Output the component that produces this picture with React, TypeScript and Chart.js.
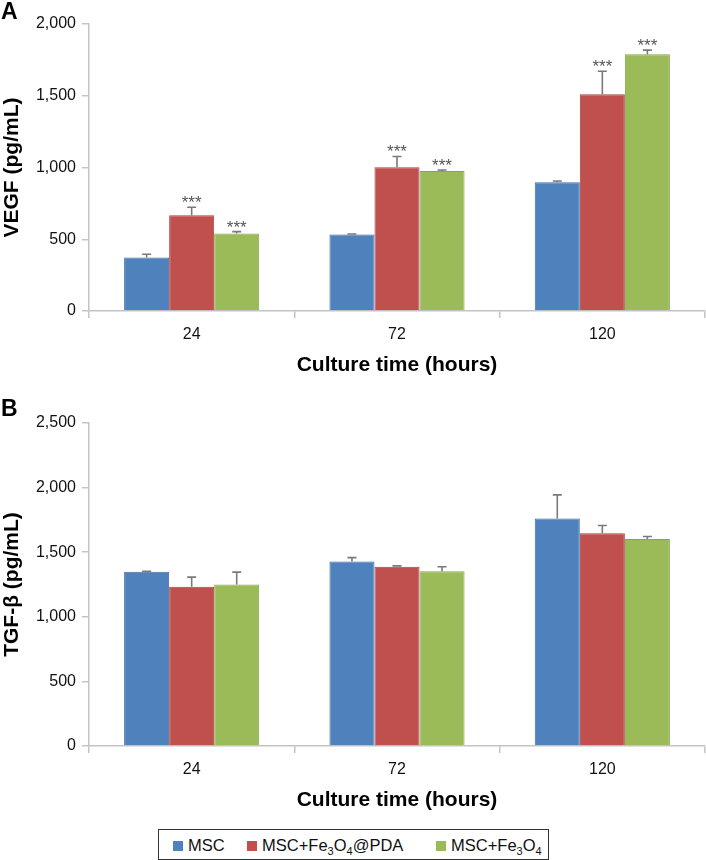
import React, { useEffect, useRef } from "react";
import { Chart, registerables } from "chart.js";

Chart.register(...registerables);

// ---------- data ----------
const categories = ["24", "72", "120"];
const seriesNames = ["MSC", "MSC+Fe3O4@PDA", "MSC+Fe3O4"];
const fillColors = ["#4F81BD", "#C0504D", "#9BBB59"];
const edgeColors = ["#3F6EA6", "#A8423F", "#86A64A"];

const vegfMSC = [372, 533, 897];
const vegfPDA = [668, 1002, 1511];
const vegfFe = [540, 976, 1790];
const vegfErrMSC = [23, 4, 9];
const vegfErrPDA = [55, 75, 160];
const vegfErrFe = [13, 7, 28];
const vegfStarsMSC = [false, false, false];
const vegfStarsPDA = [true, true, true];
const vegfStarsFe = [true, true, true];

const tgfMSC = [1348, 1428, 1761];
const tgfPDA = [1232, 1387, 1647];
const tgfFe = [1250, 1353, 1603];
const tgfErrMSC = [5, 30, 183];
const tgfErrPDA = [75, 7, 60];
const tgfErrFe = [96, 34, 19];
const tgfStars = [false, false, false];

const vegfTicks = [0, 500, 1000, 1500, 2000];
const tgfTicks = [0, 500, 1000, 1500, 2000, 2500];

const FONT = "'Liberation Sans', Arial, sans-serif";

const errorBarPlugin = {
  id: "errorBars",
  afterDatasetsDraw(chart: any) {
    const ctx = chart.ctx;
    const ys = chart.scales.y;
    chart.data.datasets.forEach((ds: any, i: number) => {
      const meta = chart.getDatasetMeta(i);
      meta.data.forEach((bar: any, j: number) => {
        const v = ds.data[j];
        const e = ds.errors[j];
        const top = ys.getPixelForValue(v + e);
        const x = bar.x;
        ctx.save();
        ctx.strokeStyle = "#7a7a7a";
        ctx.lineWidth = 1.6;
        ctx.beginPath();
        ctx.moveTo(x, bar.y);
        ctx.lineTo(x, top);
        ctx.moveTo(x - 4.5, top);
        ctx.lineTo(x + 4.5, top);
        ctx.stroke();
        if (ds.stars[j]) {
          ctx.fillStyle = "#555";
          ctx.font = `17px ${FONT}`;
          ctx.textAlign = "center";
          ctx.textBaseline = "alphabetic";
          ctx.fillText("***", x, top + 1);
        }
        ctx.restore();
      });
    });
  },
};

function makeDatasets(vals: number[][], errs: number[][], stars: boolean[][]) {
  return vals.map((d, i) => ({
    label: seriesNames[i],
    data: d,
    errors: errs[i],
    stars: stars[i],
    backgroundColor: fillColors[i],
    borderColor: edgeColors[i],
    borderWidth: 1,
    categoryPercentage: 0.658,
    barPercentage: 1,
  }));
}

function makeConfig(datasets: any[], ticks: number[], yTitle: string, topPad: number, xHeight: number) {
  return {
    type: "bar" as const,
    data: { labels: categories, datasets },
    plugins: [errorBarPlugin],
    options: {
      animation: false as const,
      responsive: false,
      devicePixelRatio: 1,
      layout: { padding: { top: topPad, right: 1, left: 0, bottom: 0 } },
      plugins: { legend: { display: false }, tooltip: { enabled: false }, title: { display: false } },
      scales: {
        x: {
          grid: { offset: true, drawOnChartArea: false, drawTicks: true, tickLength: 7, color: "#c4c4c4", lineWidth: 1.5 },
          border: { color: "#c4c4c4", width: 1.5 },
          ticks: { color: "#111", font: { family: FONT, size: 16 }, padding: 7 },
          title: { display: true, text: "Culture time (hours)", color: "#000", font: { family: FONT, size: 21, weight: "bold" }, padding: { top: 4, bottom: 5 } },
          afterFit: (s: any) => { s.height = xHeight; },
        },
        y: {
          min: 0,
          max: ticks[ticks.length - 1],
          afterBuildTicks: (s: any) => { s.ticks = ticks.map((v) => ({ value: v })); },
          grid: { drawOnChartArea: false, drawTicks: true, tickLength: 7, color: "#c4c4c4", lineWidth: 1.5 },
          border: { color: "#c4c4c4", width: 1.5 },
          ticks: { color: "#111", font: { family: FONT, size: 16 }, padding: 6, callback: (v: any) => Number(v).toLocaleString("en-US") },
          title: { display: true, text: yTitle, color: "#000", font: { family: FONT, size: 21, weight: "bold" }, padding: 0 },
          afterFit: (s: any) => { s.width = 89; },
        },
      },
    },
  };
}

function BarPanel(props: { config: any; width: number; height: number; top: number }) {
  const ref = useRef<HTMLCanvasElement | null>(null);
  useEffect(() => {
    if (!ref.current) return;
    const ch = new Chart(ref.current, props.config);
    return () => ch.destroy();
  }, []);
  return (
    <canvas
      ref={ref}
      width={props.width}
      height={props.height}
      style={{ position: "absolute", left: 0, top: props.top, width: props.width, height: props.height }}
    />
  );
}

const sub = { fontSize: 11, verticalAlign: "-4px", lineHeight: 0 } as React.CSSProperties;

function LegendItem(props: { color: string; left: number; children: React.ReactNode }) {
  return (
    <div style={{ position: "absolute", left: props.left, top: 0, height: 31, display: "flex", alignItems: "center" }}>
      <div style={{ width: 10, height: 10, background: props.color, marginRight: 5 }} />
      <span style={{ fontSize: 16.5, color: "#111", whiteSpace: "nowrap" }}>{props.children}</span>
    </div>
  );
}

export default function App() {
  const cfgA = makeConfig(
    makeDatasets([vegfMSC, vegfPDA, vegfFe], [vegfErrMSC, vegfErrPDA, vegfErrFe], [vegfStarsMSC, vegfStarsPDA, vegfStarsFe]),
    vegfTicks,
    "VEGF (pg/mL)",
    24,
    72
  );
  const cfgB = makeConfig(
    makeDatasets([tgfMSC, tgfPDA, tgfFe], [tgfErrMSC, tgfErrPDA, tgfErrFe], [tgfStars, tgfStars, tgfStars]),
    tgfTicks,
    "TGF-β (pg/mL)",
    23,
    72
  );
  return (
    <div style={{ position: "fixed", left: 0, top: 0, width: 706, height: 860, background: "#fff", fontFamily: FONT, overflow: "hidden" }}>
      <BarPanel config={cfgA} width={706} height={383} top={0} />
      <BarPanel config={cfgB} width={706} height={418} top={400} />
      <div style={{ position: "absolute", left: 1, top: 0, fontSize: 23, fontWeight: "bold", lineHeight: "23px" }}>A</div>
      <div style={{ position: "absolute", left: 1, top: 397, fontSize: 23, fontWeight: "bold", lineHeight: "23px" }}>B</div>
      <div style={{ position: "absolute", left: 158, top: 829, width: 391, height: 31, border: "1px solid #333", boxSizing: "border-box" }}>
        <LegendItem color={fillColors[0]} left={14}>MSC</LegendItem>
        <LegendItem color={fillColors[1]} left={88}>
          MSC+Fe<span style={sub}>3</span>O<span style={sub}>4</span>@PDA
        </LegendItem>
        <LegendItem color={fillColors[2]} left={277}>
          MSC+Fe<span style={sub}>3</span>O<span style={sub}>4</span>
        </LegendItem>
      </div>
    </div>
  );
}
